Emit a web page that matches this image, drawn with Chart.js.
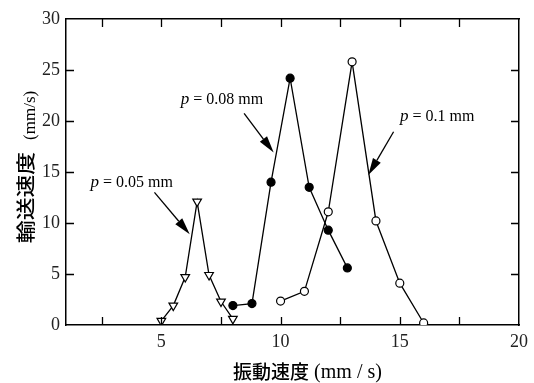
<!DOCTYPE html>
<html><head><meta charset="utf-8">
<script src="https://cdn.jsdelivr.net/npm/chart.js@4/dist/chart.umd.min.js"></script>
<style>html,body{margin:0;padding:0;background:#fff}#c{display:block}</style>
</head><body>
<canvas id="c" width="534" height="383" style="width:534px;height:383px"></canvas>
<script>
// ---- data ----
const x05 = [5.0, 5.5, 6.0, 6.5, 7.0, 7.5, 8.0];
const y05 = [0.4, 1.9, 4.7, 12.1, 4.9, 2.3, 0.6];
const x08 = [8.0, 8.8, 9.6, 10.4, 11.2, 12.0, 12.8];
const y08 = [1.9, 2.1, 14.0, 24.2, 13.5, 9.3, 5.6];
const x10 = [10, 11, 12, 13, 14, 15, 16];
const y10 = [2.35, 3.3, 11.1, 25.8, 10.2, 4.1, 0.2];
const seriesLabels = ['p = 0.05 mm', 'p = 0.08 mm', 'p = 0.1 mm'];
const xTickLabels = [5, 10, 15, 20];
const yTickLabels = [0, 5, 10, 15, 20, 25, 30];
const xTitle = ['振動速度', ' (mm / s)'];
const yTitle = ['輸送速度', '(mm/s)'];

// annotation anchors in data units (label start, arrow tail, arrow tip)
const notes = [
  {eq: '=', val: '0.05 mm', tx: 2.03, ty: 13.5, ax: 4.71, ay: 13.0, bx: 6.19, by: 8.9},
  {eq: '=', val: '0.08 mm', tx: 5.81, ty: 21.67, ax: 8.47, ay: 20.75, bx: 9.71, by: 16.9},
  {eq: '=', val: '0.1 mm', tx: 15.01, ty: 20.03, ax: 14.74, ay: 18.95, bx: 13.68, by: 14.7}
];

const pts = (xs, ys) => xs.map((x, i) => ({x, y: ys[i]}));
const SERIF = '"Liberation Serif", "Times New Roman", serif';
const CJK = '"Noto Sans CJK JP", sans-serif';

const deco = {
  id: 'deco',
  afterDatasetsDraw(chart) {
    const ctx = chart.ctx, xs = chart.scales.x, ys = chart.scales.y, a = chart.chartArea;
    ctx.save();
    // inward ticks
    ctx.strokeStyle = '#000'; ctx.lineWidth = 1.3;
    const L = 8;
    for (let v = 2.5; v < 20; v += 2.5) {
      const px = Math.round(xs.getPixelForValue(v)) + 0.5;
      ctx.beginPath();
      ctx.moveTo(px, a.bottom); ctx.lineTo(px, a.bottom - L);
      ctx.moveTo(px, a.top); ctx.lineTo(px, a.top + L);
      ctx.stroke();
    }
    for (let v = 5; v < 30; v += 5) {
      const py = Math.round(ys.getPixelForValue(v)) + 0.5;
      ctx.beginPath();
      ctx.moveTo(a.left, py); ctx.lineTo(a.left + L, py);
      ctx.moveTo(a.right, py); ctx.lineTo(a.right - L, py);
      ctx.stroke();
    }
    // annotations
    ctx.fillStyle = '#000';
    notes.forEach(n => {
      let tx = xs.getPixelForValue(n.tx);
      const ty = ys.getPixelForValue(n.ty);
      ctx.textBaseline = 'alphabetic'; ctx.textAlign = 'left';
      ctx.font = 'italic 17px ' + SERIF;
      ctx.fillText('p', tx, ty);
      tx += ctx.measureText('p').width + 4;
      ctx.font = '16px ' + SERIF;
      ctx.fillText(n.eq, tx, ty);
      tx += ctx.measureText(n.eq).width + 4;
      ctx.fillText(n.val, tx, ty);
      const x1 = xs.getPixelForValue(n.ax), y1 = ys.getPixelForValue(n.ay);
      const x2 = xs.getPixelForValue(n.bx), y2 = ys.getPixelForValue(n.by);
      const ang = Math.atan2(y2 - y1, x2 - x1);
      const hl = 17, hw = 4.5;
      const bx = x2 - hl * Math.cos(ang), by = y2 - hl * Math.sin(ang);
      ctx.lineWidth = 1.3;
      ctx.beginPath(); ctx.moveTo(x1, y1); ctx.lineTo(bx, by); ctx.stroke();
      ctx.beginPath();
      ctx.moveTo(x2, y2);
      ctx.lineTo(bx + hw * Math.sin(ang), by - hw * Math.cos(ang));
      ctx.lineTo(bx - hw * Math.sin(ang), by + hw * Math.cos(ang));
      ctx.closePath(); ctx.fill();
    });
    // x title
    ctx.textBaseline = 'alphabetic'; ctx.textAlign = 'left';
    ctx.font = '500 19px ' + CJK;
    const cw = ctx.measureText(xTitle[0]).width;
    ctx.font = '20px ' + SERIF;
    const sw = ctx.measureText(xTitle[1]).width;
    const cx = (a.left + a.right) / 2 + 15 - (cw + sw) / 2;
    ctx.font = '500 19px ' + CJK;
    ctx.fillText(xTitle[0], cx, 379);
    ctx.font = '20px ' + SERIF;
    ctx.fillText(xTitle[1], cx + cw, 378);
    // y title (rotated)
    ctx.translate(33, 167);
    ctx.rotate(-Math.PI / 2);
    ctx.font = '500 19px ' + CJK;
    const cw2 = ctx.measureText(yTitle[0]).width;
    ctx.font = '17px ' + SERIF;
    const sw2 = ctx.measureText(yTitle[1]).width;
    const gap = 12;
    const sx = -(cw2 * 1.2 + gap + sw2) / 2;
    ctx.save();
    ctx.scale(1.2, 1);
    ctx.font = '500 19px ' + CJK;
    ctx.fillText(yTitle[0], sx / 1.2, 0);
    ctx.restore();
    ctx.font = '17px ' + SERIF;
    ctx.fillText(yTitle[1], sx + cw2 * 1.2 + gap, 2);
    ctx.restore();
  }
};

const common = {borderColor: '#000', borderWidth: 1.3, pointBorderColor: '#000', pointBorderWidth: 1.2, showLine: true, tension: 0};

new Chart(document.getElementById('c'), {
  type: 'scatter',
  data: {
    datasets: [
      Object.assign({label: seriesLabels[0], data: pts(x05, y05), pointStyle: 'triangle', rotation: 180, pointRadius: 5, pointBackgroundColor: '#fff'}, common),
      Object.assign({label: seriesLabels[1], data: pts(x08, y08), pointStyle: 'circle', pointRadius: 4, pointBackgroundColor: '#000'}, common),
      Object.assign({label: seriesLabels[2], data: pts(x10, y10), pointStyle: 'circle', pointRadius: 4, pointBackgroundColor: '#fff'}, common)
    ]
  },
  options: {
    responsive: false,
    animation: false,
    devicePixelRatio: 1,
    layout: {padding: {top: 19, right: 15, left: 0, bottom: 0}},
    plugins: {legend: {display: false}, tooltip: {enabled: false}},
    scales: {
      x: {
        type: 'linear', min: 1, max: 20,
        afterFit(s) { s.height = 58; },
        afterBuildTicks(s) { s.ticks = xTickLabels.map(v => ({value: v})); },
        grid: {display: true, drawOnChartArea: false, drawTicks: false},
        border: {display: true, color: '#000', width: 1.5},
        ticks: {padding: 6, color: '#222', font: {family: SERIF, size: 18}, maxRotation: 0}
      },
      y: {
        type: 'linear', min: 0, max: 30,
        afterFit(s) { s.width = 66; },
        afterBuildTicks(s) { s.ticks = yTickLabels.map(v => ({value: v})); },
        grid: {display: true, drawOnChartArea: false, drawTicks: false},
        border: {display: true, color: '#000', width: 1.5},
        ticks: {padding: 6, color: '#222', font: {family: SERIF, size: 18}}
      },
      x2: {
        type: 'linear', position: 'top', min: 1, max: 20, display: true,
        afterFit(s) { s.height = 0; },
        grid: {display: false, drawTicks: false},
        border: {display: true, color: '#000', width: 1.5},
        ticks: {display: false}
      },
      y2: {
        type: 'linear', position: 'right', min: 0, max: 30, display: true,
        afterFit(s) { s.width = 0; },
        grid: {display: false, drawTicks: false},
        border: {display: true, color: '#000', width: 1.5},
        ticks: {display: false}
      }
    }
  },
  plugins: [deco]
});
</script>
</body></html>
